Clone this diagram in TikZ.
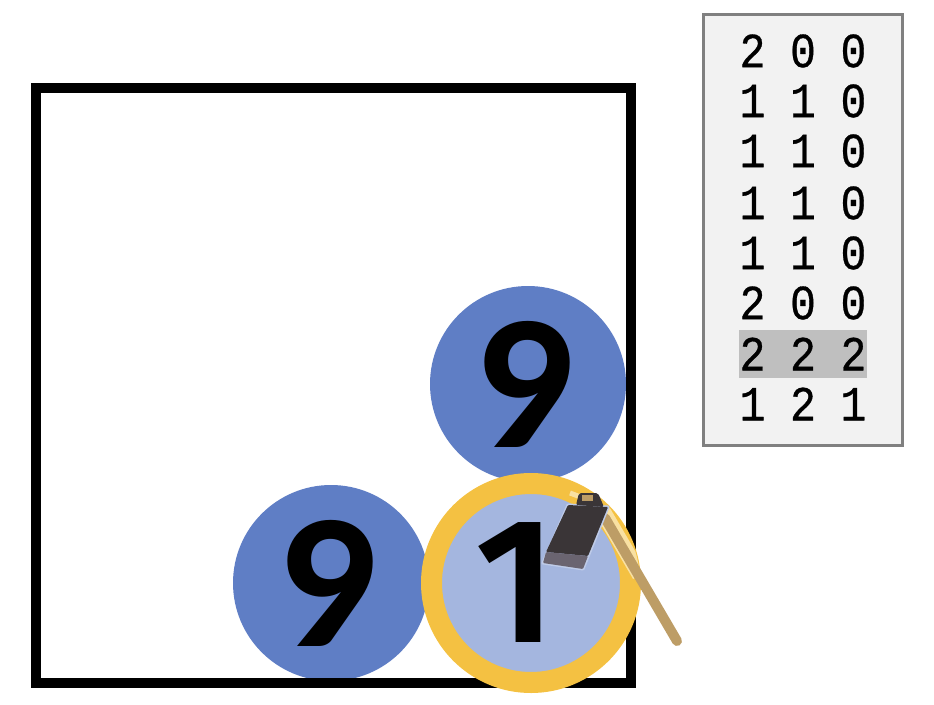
\documentclass[tikz,border=0pt]{standalone}
\usepackage{xcolor}
\usepackage{fontspec}
\newfontfamily\ballfont{Lato}[BoldFont={* Heavy}]
\newfontfamily\onefont{Fira Sans}[BoldFont={* SemiBold}]
\newfontfamily\tablefont{Liberation Mono}[FakeStretch=0.88,FakeBold=0.6]

\definecolor{ballblue}{HTML}{5F7EC5}
\definecolor{balllight}{HTML}{A4B6DF}
\definecolor{ringyellow}{HTML}{F4C142}
\definecolor{ringpale}{HTML}{F9E1A2}
\definecolor{panelgray}{HTML}{F2F2F2}
\definecolor{rowgray}{HTML}{BFBFBF}
\definecolor{handletan}{HTML}{BD9D66}
\definecolor{hoedark}{HTML}{3A3537}
\definecolor{hoeband}{HTML}{6A6470}
\definecolor{hoehalo}{HTML}{BECBE8}

\newcommand{\tablerow}[3]{#1\hspace{24.6pt}#2\hspace{24.6pt}#3}

\tikzset{
  ball/.style={circle,fill=ballblue,minimum size=196pt,inner sep=0pt,text=black,
    font=\fontsize{172}{172}\ballfont\bfseries},
  hitball/.style={circle,fill=balllight,draw=ringyellow,line width=21pt,minimum size=199pt,inner sep=0pt},
  hitlabel/.style={inner sep=0pt,font=\fontsize{178}{178}\onefont\bfseries},
  panel/.style={draw=gray,fill=panelgray,line width=2.5pt,minimum width=199pt,minimum height=431pt,inner sep=0pt},
  rowlight/.style={fill=rowgray,minimum width=128pt,minimum height=48pt,inner sep=0pt},
  rowtext/.style={inner sep=0pt,font=\fontsize{49}{49}\tablefont}
}

\begin{document}
\begin{tikzpicture}[x=1pt,y=-1pt]
\useasboundingbox (0,0) rectangle (934,704);

\node[ball] (topball) at (528,384) {9};
\node[ball] (leftball) at (331,583) {9};
\draw[line width=10pt] (36,88) rectangle (631,683);
\node[hitball] (hitball) at (531,583) {};
\node[hitlabel] (hitone) at (516,583) {1};

% hoe
\begin{scope}
\clip (531,583) circle [radius=109];
\draw[ringpale,line width=16pt] (603,512)--(640,575);
\draw[ringpale,line width=5pt] (570,493)--(586,499);
\end{scope}
\draw[handletan,line width=10pt,line cap=round] (605,518)--(677,641);
\draw[hoehalo,line width=3pt,line join=round] (568,505)--(608,507)--(583,569)--(543,563)--cycle;
\fill[hoedark,rounded corners=2pt] (576,505)--(579,493)--(598,493)--(604,507)--cycle;
\fill[handletan] (582,495)--(593,495)--(593,501)--(582,501)--cycle;
\fill[hoedark,rounded corners=1pt] (568,505)--(608,507)--(588,556)--(546,552)--cycle;
\fill[hoeband,rounded corners=1pt] (546,552)--(588,556)--(583,569)--(543,563)--cycle;

% panel
\node[panel] (panel) at (803,230) {};
\node[rowlight] (rowlight) at (803,354) {};
\node[rowtext] (rowa) at (803,51) {\tablerow{2}{0}{0}};
\node[rowtext] (rowb) at (803,101) {\tablerow{1}{1}{0}};
\node[rowtext] (rowc) at (803,151) {\tablerow{1}{1}{0}};
\node[rowtext] (rowd) at (803,203) {\tablerow{1}{1}{0}};
\node[rowtext] (rowe) at (803,253) {\tablerow{1}{1}{0}};
\node[rowtext] (rowf) at (803,303) {\tablerow{2}{0}{0}};
\node[rowtext] (rowg) at (803,354) {\tablerow{2}{2}{2}};
\node[rowtext] (rowh) at (803,404) {\tablerow{1}{2}{1}};

\end{tikzpicture}
\end{document}
